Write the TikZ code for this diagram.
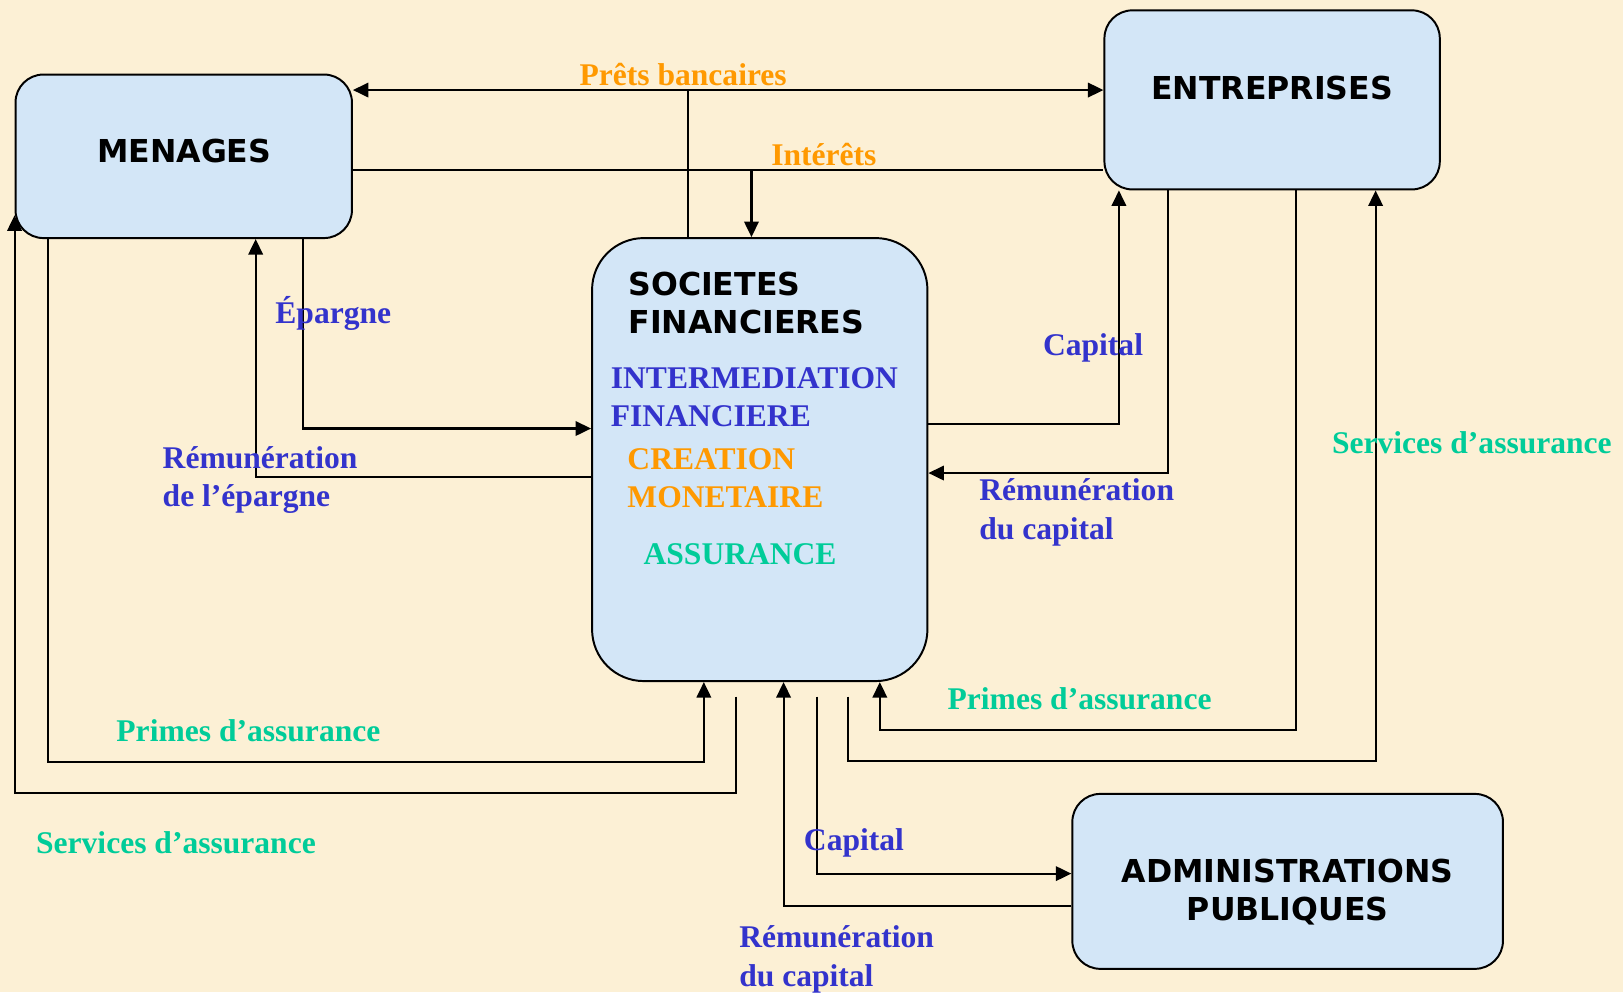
\documentclass[tikz,border=0pt]{standalone}
\usepackage{fontspec}
\setmainfont{Liberation Serif}
\newfontfamily\titrefont{DejaVu Sans}
\usetikzlibrary{arrows.meta}
\definecolor{fond}{HTML}{FCF0D5}
\definecolor{bleuboite}{HTML}{D3E6F7}
\definecolor{bleuflux}{HTML}{3333CC}
\definecolor{orangeflux}{HTML}{FF9900}
\definecolor{vertflux}{HTML}{00CC99}
\begin{document}
\begin{tikzpicture}[x=1pt,y=-1pt,
				every node/.style={inner sep=0pt,font=\fontsize{30.5}{37}\selectfont\bfseries},
				boite/.style={draw,line width=1.9pt,rounded corners=27pt,fill=bleuboite},
				titre/.style={font=\fontsize{30.5}{37}\selectfont\titrefont\bfseries,align=center},
				flux/.style={align=left},
				fleche/.style={line width=2pt,-{Triangle[length=15pt,width=14pt]}},
				trait/.style={line width=2pt}]
\fill[fond] (0,0) rectangle (1568,958);
\node[boite,minimum width=325pt,minimum height=158pt] (menages) at (177.5,151) {};
\node[boite,minimum width=324pt,minimum height=173pt] (entreprises) at (1229,96.5) {};
\node[boite,minimum width=324pt,minimum height=428pt,rounded corners=50pt] (societes) at (734,444) {};
\node[boite,minimum width=416pt,minimum height=169pt] (admin) at (1244,851.5) {};
\node[titre] (tmenages) at (178,146) {MENAGES};
\node[titre] (tentreprises) at (1229,85) {ENTREPRISES};
\node[titre] (tadmin) at (1244,862) {ADMINISTRATIONS\\PUBLIQUES};
\node[titre,align=left,anchor=west] (tsocietes) at (607,293) {SOCIETES\\FINANCIERES};
\node[flux,anchor=west,text=bleuflux] (intermediation) at (590,384) {INTERMEDIATION\\FINANCIERE};
\node[flux,anchor=west,text=orangeflux] (creation) at (606,462) {CREATION\\MONETAIRE};
\node[text=vertflux] (assurance) at (715,535) {ASSURANCE};
\coordinate (interets) at (726,164);
\coordinate (servgauche) at (711,673);
\coordinate (capadmin) at (789,673);
\coordinate (servdroite) at (819,673);
\draw[fleche] ([xshift=-69pt]societes.north) |- ([yshift=64pt]menages.east);
\draw[fleche] ([xshift=-69pt]societes.north) |- ([yshift=9.5pt]entreprises.west);
\draw[trait] ([yshift=-13pt]menages.east) -- ([yshift=-67.5pt]entreprises.west);
\draw[fleche] (interets) -- (interets |- societes.north);
\draw[fleche] ([xshift=115.5pt]menages.south) |- ([yshift=30pt]societes.west);
\draw[fleche] ([yshift=-17pt]societes.west) -| ([xshift=69.5pt]menages.south);
\draw[fleche] ([yshift=34pt]societes.east) -| ([xshift=-148pt]entreprises.south);
\draw[fleche] ([xshift=-101pt]entreprises.south) |- ([yshift=-13pt]societes.east);
\draw[fleche] (servdroite) -- ++(0,62) -| ([xshift=100pt]entreprises.south);
\draw[fleche] ([xshift=23pt]entreprises.south) -- ++(0,521) -| ([xshift=116pt]societes.south);
\draw[fleche] ([xshift=-131.5pt]menages.south) -- ++(0,505) -| ([xshift=-54pt]societes.south);
\draw[fleche] (servgauche) -- ++(0,93) -| ([yshift=-57pt]menages.west);
\draw[fleche] (capadmin) |- ([yshift=7.5pt]admin.west);
\draw[fleche] ([yshift=-23.5pt]admin.west) -| ([xshift=23pt]societes.south);
\node[text=orangeflux] (prets) at (660,72) {Prêts bancaires};
\node[text=orangeflux] (linterets) at (796,149) {Intérêts};
\node[text=bleuflux] (epargne) at (322,303) {Épargne};
\node[flux,anchor=west,text=bleuflux] (remepargne) at (157,464) {Rémunération\\de l’épargne};
\node[text=bleuflux] (capital) at (1056,336) {Capital};
\node[flux,anchor=west,text=bleuflux] (remcapital) at (946,495) {Rémunération\\du capital};
\node[text=vertflux] (servicesd) at (1422,428) {Services d’assurance};
\node[text=vertflux] (primesd) at (1043,675) {Primes d’assurance};
\node[text=vertflux] (primesg) at (240,706) {Primes d’assurance};
\node[text=vertflux] (servicesg) at (170,814) {Services d’assurance};
\node[text=bleuflux] (capitaladmin) at (825,814) {Capital};
\node[flux,anchor=west,text=bleuflux] (remadmin) at (714,927) {Rémunération\\du capital};
\end{tikzpicture}
\end{document}
